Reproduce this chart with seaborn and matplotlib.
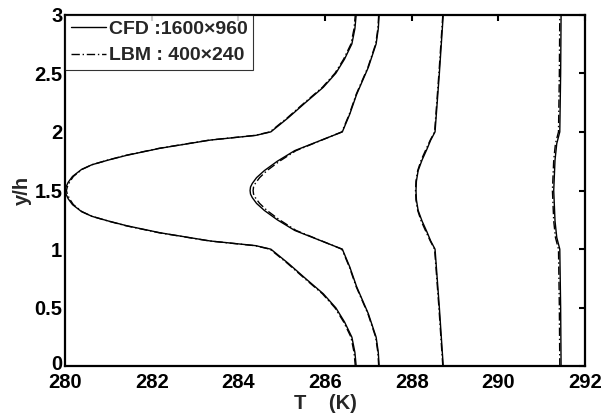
import numpy as np
import pandas as pd
import matplotlib
matplotlib.use("Agg")
import matplotlib.pyplot as plt
import matplotlib.transforms as mtransforms
import seaborn as sns

# --- 1. STYLE ---
sns.set_style("white")
plt.rcParams['font.family'] = ['Liberation Sans', 'DejaVu Sans']
plt.rcParams['font.weight'] = 'bold'

# --- 2. DATA ---
# four temperature profiles, y/h on the vertical axis
y_c1 = [0.0, 0.12, 0.25, 0.38, 0.5, 0.62, 0.75, 0.88, 1.0, 1.03, 1.07, 1.14, 1.2, 1.24, 1.28, 1.32,
        1.38, 1.43, 1.47, 1.5, 1.53, 1.57, 1.62, 1.68, 1.72, 1.76, 1.8, 1.86, 1.93, 1.97, 2.0,
        2.12, 2.25, 2.38, 2.5, 2.62, 2.75, 2.88, 3.0]
t_c1_cfd = [286.72, 286.69, 286.62, 286.45, 286.25, 285.96, 285.55, 285.15, 284.75, 284.4, 283.35, 282.19,
            281.42, 281.0, 280.62, 280.38, 280.17, 280.07, 280.02, 280.0, 280.02, 280.07, 280.17, 280.38,
            280.62, 281.0, 281.42, 282.19, 283.35, 284.4, 284.75,
            285.15, 285.55, 285.96, 286.25, 286.45, 286.62, 286.69, 286.72]
t_c1_lbm = [286.7, 286.67, 286.6, 286.43, 286.23, 285.94, 285.53, 285.13, 284.73, 284.38, 283.33, 282.17,
            281.4, 280.99, 280.62, 280.39, 280.19, 280.1, 280.05, 280.03, 280.05, 280.1, 280.19, 280.39,
            280.62, 280.99, 281.4, 282.17, 283.33, 284.38, 284.73,
            285.13, 285.53, 285.94, 286.23, 286.43, 286.6, 286.67, 286.7]

y_c2 = [0.0, 0.12, 0.25, 0.45, 0.68, 0.85, 1.0, 1.08, 1.16, 1.25, 1.33, 1.39, 1.44, 1.47, 1.5,
        1.53, 1.56, 1.61, 1.67, 1.75, 1.84, 1.92, 2.0, 2.15, 2.32, 2.55, 2.75, 2.88, 3.0]
t_c2_cfd = [287.25, 287.23, 287.18, 287.0, 286.73, 286.57, 286.4, 285.85, 285.3, 284.9, 284.6, 284.42,
            284.32, 284.28, 284.27, 284.28, 284.32, 284.42, 284.6, 284.9, 285.3, 285.85, 286.4,
            286.57, 286.73, 287.0, 287.18, 287.23, 287.25]
t_c2_lbm = [287.24, 287.22, 287.17, 286.99, 286.72, 286.56, 286.39, 285.86, 285.33, 284.95, 284.66, 284.49,
            284.39, 284.35, 284.34, 284.35, 284.39, 284.49, 284.66, 284.95, 285.33, 285.86, 286.39,
            286.56, 286.72, 286.99, 287.17, 287.22, 287.24]

y_c3 = [0.0, 0.5, 1.0, 1.07, 1.15, 1.24, 1.33, 1.42, 1.5, 1.58, 1.67, 1.76, 1.85, 1.93, 2.0, 2.5, 3.0]
t_c3_cfd = [288.73, 288.64, 288.54, 288.44, 288.35, 288.24, 288.15, 288.11, 288.1,
            288.11, 288.15, 288.24, 288.35, 288.44, 288.54, 288.64, 288.73]
t_c3_lbm = [288.72, 288.63, 288.53, 288.43, 288.33, 288.22, 288.14, 288.1, 288.09,
            288.1, 288.14, 288.22, 288.33, 288.43, 288.53, 288.63, 288.72]

y_c4 = [0.0, 0.5, 1.0, 1.1, 1.24, 1.5, 1.76, 1.9, 2.0, 2.5, 3.0]
t_c4_cfd = [291.45, 291.44, 291.42, 291.35, 291.31, 291.28, 291.31, 291.35, 291.42, 291.44, 291.45]
t_c4_lbm = [291.42, 291.41, 291.39, 291.32, 291.28, 291.25, 291.28, 291.32, 291.39, 291.41, 291.42]

legend_labels = ["CFD :1600\u00d7960", "LBM : 400\u00d7240"]

# --- 3. BUILD LONG TABLE ---
frames = []
for cid, (yy, cfd, lbm) in enumerate([(y_c1, t_c1_cfd, t_c1_lbm), (y_c2, t_c2_cfd, t_c2_lbm),
                                      (y_c3, t_c3_cfd, t_c3_lbm), (y_c4, t_c4_cfd, t_c4_lbm)]):
    frames.append(pd.DataFrame({'T': cfd, 'y': yy, 'model': legend_labels[0], 'curve': cid}))
    frames.append(pd.DataFrame({'T': lbm, 'y': yy, 'model': legend_labels[1], 'curve': cid}))
df = pd.concat(frames, ignore_index=True)

# --- 4. PLOT ---
fig = plt.figure(figsize=(6.03, 4.16), dpi=100)
ax = fig.add_axes([0.108, 0.119, 0.862, 0.846])

styles = {legend_labels[0]: '-', legend_labels[1]: (0, (6, 2, 1, 2))}
for (model, cid), sub in df.groupby(['model', 'curve'], sort=False):
    sns.lineplot(data=sub, x='T', y='y', orient='y', estimator=None, sort=False,
                 color='black', linewidth=1.0, linestyle=styles[model],
                 label=model if cid == 0 else None, ax=ax, legend=False)

ax.set_xlim(280, 292)
ax.set_ylim(0, 3)
ax.set_xticks(np.arange(280, 293, 2))
ax.set_yticks([0, 0.5, 1, 1.5, 2, 2.5, 3])
ax.set_yticklabels(['0', '0.5', '1', '1.5', '2', '2.5', '3'])
ax.tick_params(direction='in', length=4, width=1.5, top=True, right=True,
               labelsize=14.5, colors='black')
ax.tick_params(axis='x', pad=5)
ax.tick_params(axis='y', pad=2)
for s in ax.spines.values():
    s.set_linewidth(1.6)
    s.set_color('black')

# nudge the "0" label up a little so it clears "280"
zero_lbl = ax.get_yticklabels()[0]
zero_lbl.set_transform(zero_lbl.get_transform() +
                       mtransforms.ScaledTranslation(0, 3 / 72, fig.dpi_scale_trans))

ax.set_xlabel('T    (K)', fontsize=14.5, fontweight='bold', labelpad=1)
ax.set_ylabel('y/h', fontsize=14.5, fontweight='bold', labelpad=2)

handles, labels = ax.get_legend_handles_labels()
leg = ax.legend(handles, labels, loc='upper left', fontsize=14, frameon=True, fancybox=False,
                edgecolor='black', handlelength=1.8, handletextpad=0.15, borderpad=0.3,
                labelspacing=0.45, borderaxespad=0.0)
leg.get_frame().set_linewidth(0.8)
for t in leg.get_texts():
    t.set_fontweight('bold')

fig.savefig('out.png', dpi=100)
